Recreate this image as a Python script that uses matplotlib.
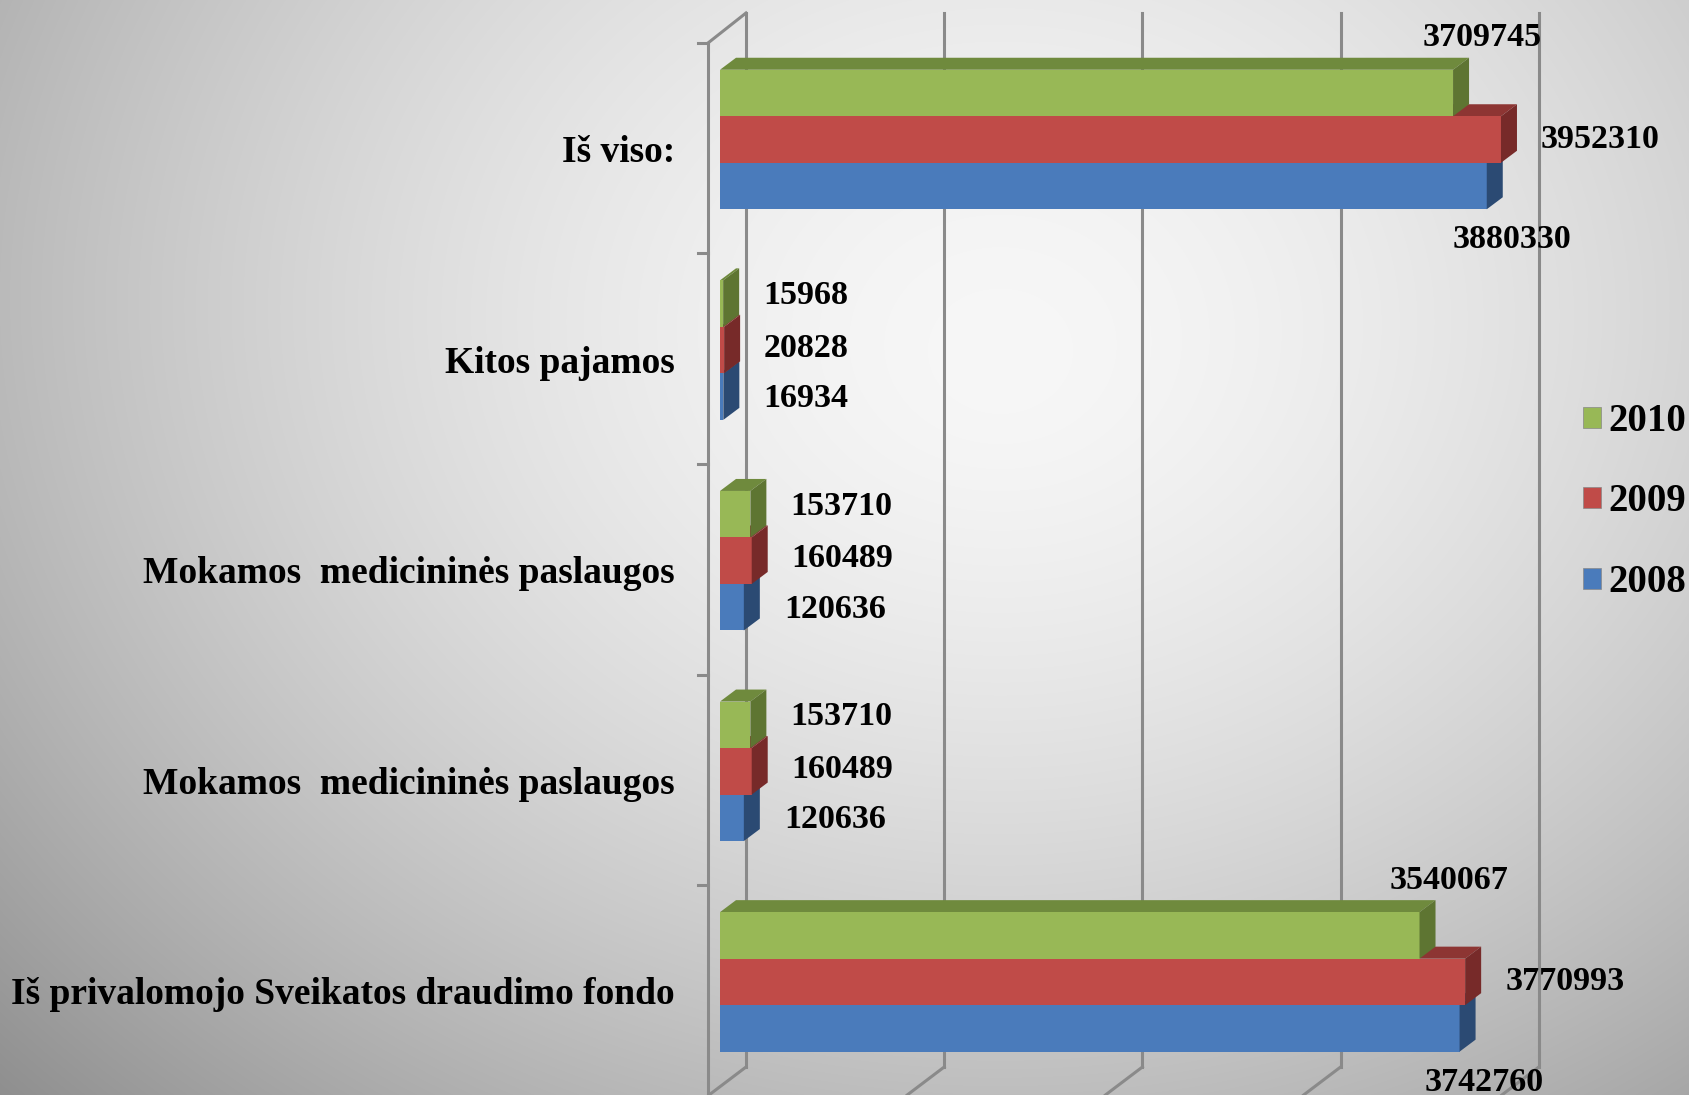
import numpy as np
import matplotlib.pyplot as plt
from matplotlib.patches import Polygon, Patch

plt.rcParams['font.family'] = ['Liberation Serif', 'DejaVu Serif']
plt.rcParams['font.weight'] = 'bold'

# data (bottom -> top as drawn)
categories = ["Iš privalomojo Sveikatos draudimo fondo",
              "Mokamos  medicininės paslaugos",
              "Mokamos  medicininės paslaugos",
              "Kitos pajamos",
              "Iš viso:"]
years = ["2008", "2009", "2010"]
v2008 = [3742760, 120636, 120636, 16934, 3880330]
v2009 = [3770993, 160489, 160489, 20828, 3952310]
v2010 = [3540067, 153710, 153710, 15968, 3709745]
grid_ticks = [0, 1000000, 2000000, 3000000, 4000000]

front = {"2008": "#4a7bbb", "2009": "#c04b48", "2010": "#98b856"}
top = {"2008": "#36598a", "2009": "#8d3533", "2010": "#6f8a3d"}
side = {"2008": "#2b4a73", "2009": "#772a29", "2010": "#5e7532"}

W, H = 1690, 1095
fig = plt.figure(figsize=(W / 100, H / 100), dpi=100)

# background gradient
bg = fig.add_axes([0, 0, 1, 1])
yy, xx = np.mgrid[0:H, 0:W]
r = np.sqrt(((xx - 1000) / 1150.0) ** 2 + ((yy - 380) / 950.0) ** 2)
shade = np.clip(0.985 - 0.30 * r ** 1.6 - 0.05 * yy / H, 0, 1)
bg.imshow(np.dstack([shade] * 3), aspect='auto', extent=[0, W, H, 0])
bg.axis('off')

ax = fig.add_axes([0, 0, 1, 1])
ax.patch.set_alpha(0)
ax.axis('off')

# pixel -> data helpers
ux = 1 / 197.6e-6      # value per pixel
uy = 1 / 210.6         # category unit per pixel
x0, yc0 = 720, 981.9   # front origin, centre of bottom group (px from top)
ax.set_xlim(-x0 * ux, (W - x0) * ux)
ax.set_ylim(-(H - yc0) * uy, yc0 * uy)

h = 46.5 * uy
dx, dy = 16 * ux, 12 * uy
shift = {"2008": -h, "2009": 0, "2010": h}
series = {"2008": v2008, "2009": v2009, "2010": v2010}

# walls and grid
wx = 26 * ux
ytop = (yc0 - 13) * uy
ybot = (yc0 - 1067) * uy
gc = '#8a8a8a'
for g in grid_ticks:
    gx = wx + g * 198.2 / 197.6
    ax.plot([gx, gx], [ybot, ytop], color=gc, lw=2.2, zorder=1)
    ax.plot([gx, gx - 37 * ux], [ybot, ybot - 28 * uy], color=gc, lw=2.2, zorder=1)
fx = -12 * ux
ax.plot([fx, fx], [(yc0 - 1100) * uy, (yc0 - 43) * uy], color=gc, lw=2.2, zorder=1)
ax.plot([fx, wx], [(yc0 - 43) * uy, ytop], color=gc, lw=2.2, zorder=1)
for i in range(len(categories)):
    ty = i + 0.5 - 8.7 * uy
    ax.plot([fx - 10 * ux, fx], [ty, ty], color=gc, lw=2.2, zorder=1)

# bars with pseudo-3D faces
ypos = np.arange(len(categories))
for k, yr in enumerate(years):
    vals = series[yr]
    yb = ypos + shift[yr]
    z = 3 + 3 * k
    for v, y in zip(vals, yb):
        t = y + h / 2
        b = y - h / 2
        ax.add_patch(Polygon([(0, t), (v, t), (v + dx, t + dy), (dx, t + dy)],
                             closed=True, facecolor=top[yr], edgecolor='none', zorder=z))
        ax.add_patch(Polygon([(v, b), (v, t), (v + dx, t + dy), (v + dx, b + dy)],
                             closed=True, facecolor=side[yr], edgecolor='none', zorder=z + 2))
    ax.barh(yb, vals, height=h, color=front[yr], edgecolor='none', zorder=z + 1)

# value labels
fs = 24.5
for yr in years:
    for i, v in enumerate(series[yr]):
        yc = i + shift[yr]
        if v > 1000000:
            if yr == "2010":
                ax.text(v + 29 * ux, yc + 55 * uy, str(v), ha='center', va='center', fontsize=fs, zorder=20)
            elif yr == "2009":
                ax.text(v + 40 * ux, yc, str(v), ha='left', va='center', fontsize=fs, zorder=20)
            else:
                ax.text(v + 25 * ux, yc - 54 * uy, str(v), ha='center', va='center', fontsize=fs, zorder=20)
        else:
            off = {"2010": 8, "2009": 2, "2008": -2}[yr]
            ax.text(v + 40 * ux, yc + off * uy, str(v), ha='left', va='center', fontsize=fs, zorder=20)

# category labels
for i, c in enumerate(categories):
    ax.text(-45 * ux, i - 13 * uy, c, ha='right', va='center', fontsize=27)

handles = [Patch(facecolor=front[yr], edgecolor='#888888', lw=0.5) for yr in years[::-1]]
ax.legend(handles, years[::-1], loc='center left', bbox_to_anchor=(1583 / W, 1 - 502 / H),
          frameon=False, fontsize=28, handlelength=0.46, handleheight=0.46,
          handletextpad=0.2, labelspacing=1.12, borderaxespad=0, borderpad=0)

fig.savefig("out.png", dpi=100)
